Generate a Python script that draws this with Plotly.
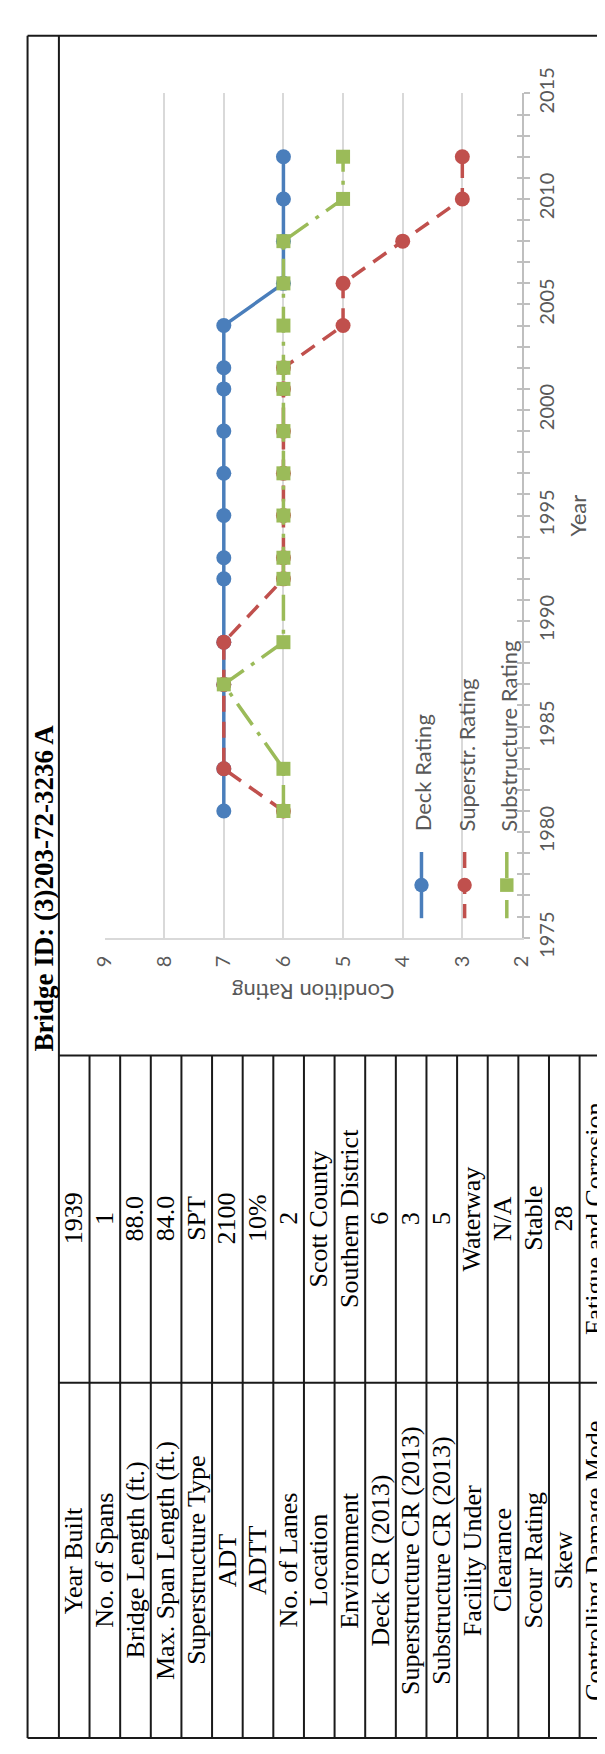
import plotly.graph_objects as go

# ---------------- data ----------------
years = [1981, 1983, 1987, 1989, 1992, 1993, 1995, 1997, 1999, 2001, 2002, 2004, 2006, 2008, 2010, 2012]
deck_rating = [7, 7, 7, 7, 7, 7, 7, 7, 7, 7, 7, 7, 6, 6, 6, 6]
superstr_rating = [6, 7, 7, 7, 6, 6, 6, 6, 6, 6, 6, 5, 5, 4, 3, 3]
substr_rating = [6, 6, 7, 6, 6, 6, 6, 6, 6, 6, 6, 6, 6, 6, 5, 5]

series_names = ["Deck Rating", "Superstr. Rating", "Substructure Rating"]
rating_ticks = [9, 8, 7, 6, 5, 4, 3, 2]
year_range = [1975, 2015]

title_text = "Bridge ID: (3)203-72-3236 A"
table_labels = ["Year Built", "No. of Spans", "Bridge Length (ft.)", "Max. Span Length (ft.)",
                "Superstructure Type", "ADT", "ADTT", "No. of Lanes", "Location", "Environment",
                "Deck CR (2013)", "Superstructure CR (2013)", "Substructure CR (2013)",
                "Facility Under", "Clearance", "Scour Rating", "Skew", "Controlling Damage Mode"]
table_values = ["1939", "1", "88.0", "84.0", "SPT", "2100", "10%", "2", "Scott County",
                "Southern District", "6", "3", "5", "Waterway", "N/A", "Stable", "28",
                "Fatigue and Corrosion"]

# ---------------- styling ----------------
W, H = 605, 1754
def px(x):
    return x / W
def py(y):
    return 1 - y / H

BLUE, RED, GREEN = "#4A7EBB", "#C0504D", "#9BBB59"
GRAY_TXT = "#595959"
SANS = "Lato"
SERIF = "Liberation Serif"
RED_DASH = "16px,10px"
GREEN_DASH = "26px,9px,4px,9px"

fig = go.Figure()
fig.add_trace(go.Scatter(x=deck_rating, y=years, mode="lines+markers", name=series_names[0],
                         line=dict(color=BLUE, width=3.5),
                         marker=dict(symbol="circle", size=15, color=BLUE),
                         showlegend=False, cliponaxis=False))
fig.add_trace(go.Scatter(x=superstr_rating, y=years, mode="lines+markers", name=series_names[1],
                         line=dict(color=RED, width=3.5, dash=RED_DASH),
                         marker=dict(symbol="circle", size=15, color=RED),
                         showlegend=False, cliponaxis=False))
fig.add_trace(go.Scatter(x=substr_rating, y=years, mode="lines+markers", name=series_names[2],
                         line=dict(color=GREEN, width=3.5, dash=GREEN_DASH),
                         marker=dict(symbol="square", size=14, color=GREEN),
                         showlegend=False, cliponaxis=False))
# helper trace for the inner half of the cross tick marks
fig.add_trace(go.Scatter(x=[None], y=[None], yaxis="y2", showlegend=False, hoverinfo="skip"))

tickfont = dict(family=SANS, size=20, color=GRAY_TXT)
fig.update_layout(
    width=W, height=H, autosize=False,
    margin=dict(l=0, r=0, t=0, b=0),
    paper_bgcolor="white", plot_bgcolor="white",
    showlegend=False,
    xaxis=dict(range=[9, 2], domain=[px(86.1), px(521.5)], anchor="y",
               tickvals=rating_ticks, ticktext=[str(v) for v in rating_ticks],
               showgrid=True, gridcolor="#D9D9D9", gridwidth=1.5,
               zeroline=False, showline=True, linecolor="#D9D9D9", linewidth=2,
               ticks="", tickangle=-90, tickfont=tickfont, ticklabelstandoff=8,
               fixedrange=True),
    yaxis=dict(range=year_range, domain=[py(928), py(61)], anchor="x", side="right",
               showgrid=False, zeroline=False, showline=True, linecolor="#BFBFBF", linewidth=2,
               ticks="outside", ticklen=6, tickwidth=1.5, tickcolor="#BFBFBF",
               tick0=1975, dtick=5,
               minor=dict(tick0=1975, dtick=1, ticks="outside", ticklen=6, tickwidth=1.5,
                          tickcolor="#BFBFBF", showgrid=False),
               tickangle=-90, tickfont=tickfont, ticklabelstandoff=0, fixedrange=True),
    yaxis2=dict(range=year_range, overlaying="y", side="right", anchor="x",
                showgrid=False, zeroline=False, showline=False,
                ticks="inside", ticklen=5, tickwidth=1.5, tickcolor="#BFBFBF",
                tick0=1975, dtick=5, showticklabels=False,
                minor=dict(tick0=1975, dtick=1, ticks="inside", ticklen=5, tickwidth=1.5,
                           tickcolor="#BFBFBF", showgrid=False),
                fixedrange=True),
)

shapes = []
annotations = []

# axis titles (rotated page)
annotations.append(dict(text="Condition Rating", x=px(303.8), y=py(985), xref="paper", yref="paper",
                        showarrow=False, textangle=180, xanchor="center", yanchor="middle",
                        font=dict(family=SANS, size=22, color=GRAY_TXT)))
annotations.append(dict(text="Year", x=px(579), y=py(494.5), xref="paper", yref="paper",
                        showarrow=False, textangle=-90, xanchor="center", yanchor="middle",
                        font=dict(family=SANS, size=22, color=GRAY_TXT)))

# custom rotated legend
leg_x = [416.7, 461.7, 505.7]
leg_col = [BLUE, RED, GREEN]
leg_dash = ["solid", RED_DASH, GREEN_DASH]
for i, name in enumerate(series_names):
    lx = leg_x[i]
    shapes.append(dict(type="line", xref="paper", yref="paper", x0=px(lx), x1=px(lx),
                       y0=py(840), y1=py(908), line=dict(color=leg_col[i], width=3.5, dash=leg_dash[i])))
    if i < 2:
        shapes.append(dict(type="circle", xref="paper", yref="paper", x0=px(lx - 7.5), x1=px(lx + 7.5),
                           y0=py(881.5), y1=py(866.5), fillcolor=leg_col[i], line=dict(width=0)))
    else:
        shapes.append(dict(type="rect", xref="paper", yref="paper", x0=px(lx - 7), x1=px(lx + 7),
                           y0=py(881), y1=py(867), fillcolor=leg_col[i], line=dict(width=0)))
    annotations.append(dict(text=name, x=px(lx + 2), y=py(821), xref="paper", yref="paper",
                            showarrow=False, textangle=-90, xanchor="center", yanchor="bottom",
                            font=dict(family=SANS, size=22, color=GRAY_TXT)))

# table frame
LC = "#1a1a1a"
LW = 2
def hline(y, x0, x1):
    shapes.append(dict(type="line", xref="paper", yref="paper", x0=px(x0), x1=px(x1),
                       y0=py(y), y1=py(y), line=dict(color=LC, width=LW)))
def vline(x, y0, y1):
    shapes.append(dict(type="line", xref="paper", yref="paper", x0=px(x), x1=px(x),
                       y0=py(y0), y1=py(y1), line=dict(color=LC, width=LW)))

hline(1.7, 5.8, 605)
hline(1750, 5.8, 605)
vline(5.8, 1.7, 1750)
vline(38.5, 1.7, 1750)
hline(1049, 38.5, 605)
hline(1385, 38.5, 605)
row_w = 31.95
for k in range(1, len(table_labels)):
    vline(38.5 + k * row_w, 1049, 1750)

# title
annotations.append(dict(text="<b>" + title_text + "</b>", x=px(22.5), y=py(877), xref="paper", yref="paper",
                        showarrow=False, textangle=-90, xanchor="center", yanchor="middle",
                        font=dict(family=SERIF, size=27, color="black")))

# table text
for i, (lab, val) in enumerate(zip(table_labels, table_values)):
    cx = 38.5 + (i + 0.5) * row_w - 0.5
    annotations.append(dict(text=lab, x=px(cx), y=py(1567.5), xref="paper", yref="paper",
                            showarrow=False, textangle=-90, xanchor="center", yanchor="middle",
                            font=dict(family=SERIF, size=26, color="black")))
    annotations.append(dict(text=val, x=px(cx), y=py(1216.5), xref="paper", yref="paper",
                            showarrow=False, textangle=-90, xanchor="center", yanchor="middle",
                            font=dict(family=SERIF, size=26, color="black")))

fig.update_layout(shapes=shapes, annotations=annotations)
fig.write_html("out.html")
